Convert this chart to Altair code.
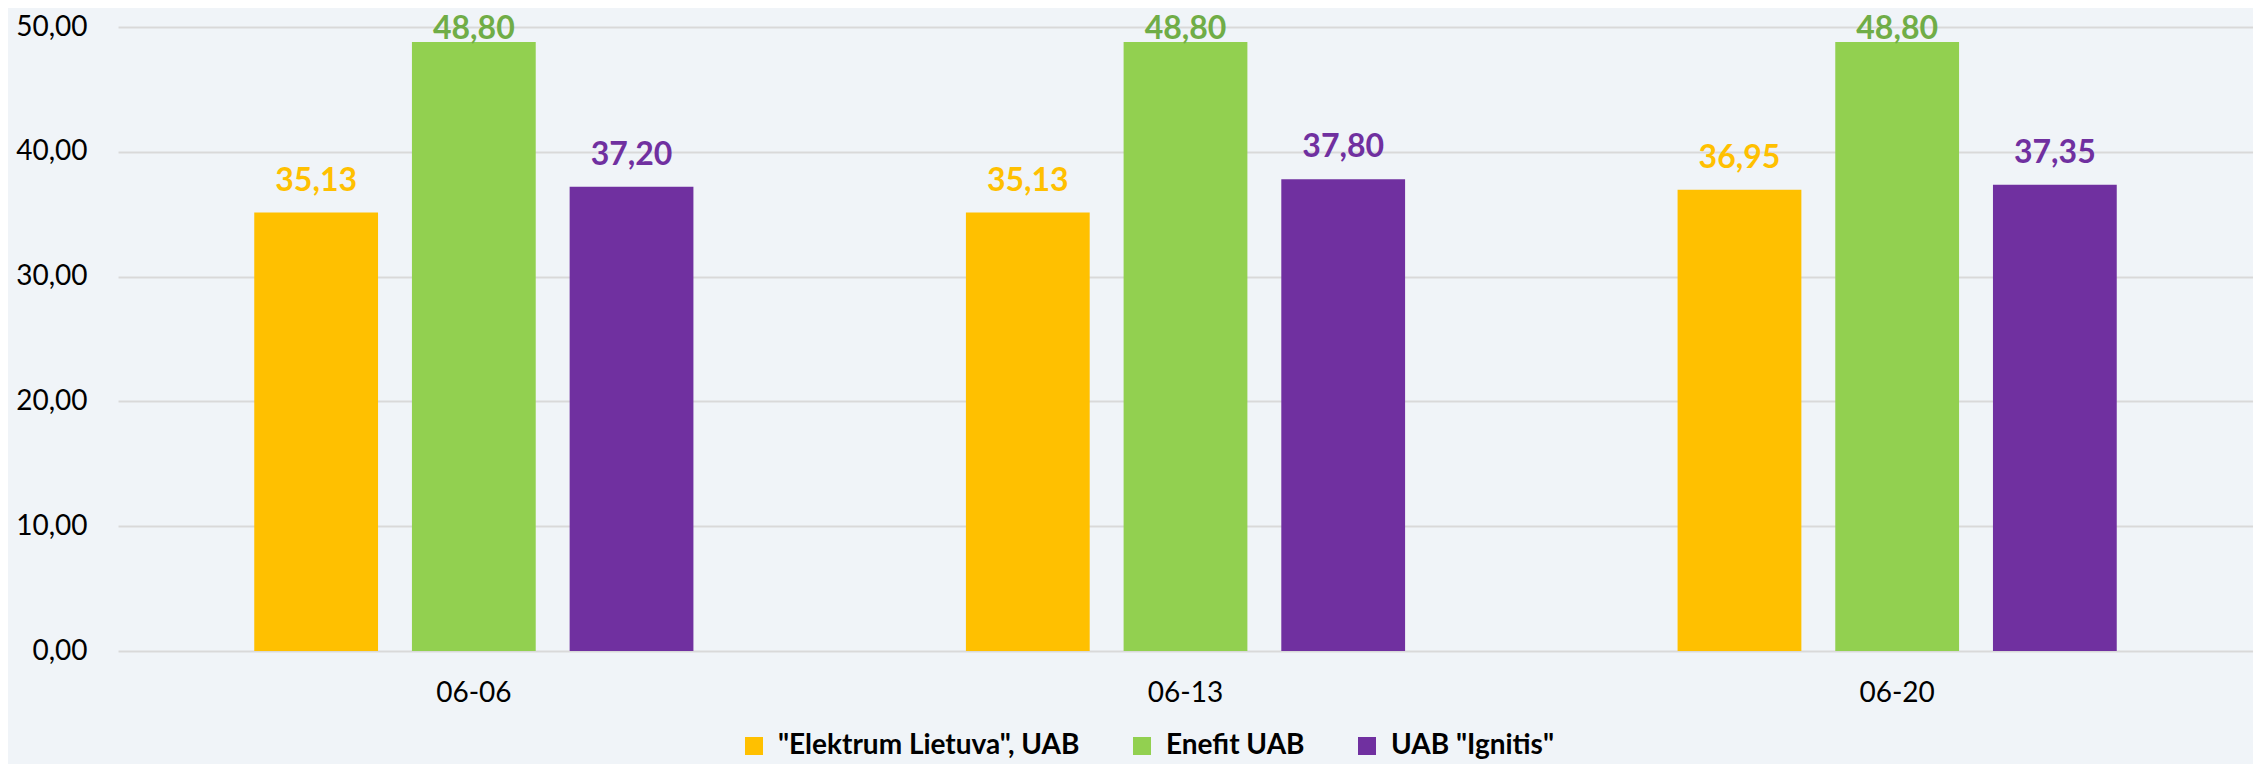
import altair as alt
import pandas as pd

dates = ["06-06", "06-13", "06-20"]
suppliers = ['"Elektrum Lietuva", UAB', "Enefit UAB", 'UAB "Ignitis"']
elektrum = [35.13, 35.13, 36.95]
enefit = [48.80, 48.80, 48.80]
ignitis = [37.20, 37.80, 37.35]
bar_colors = ["#FFC000", "#92D050", "#7030A0"]
label_colors = ["#FFC000", "#70AD47", "#7030A0"]
y_ticks = [0, 10, 20, 30, 40, 50]

rows = []
for series_name, vals in zip(suppliers, [elektrum, enefit, ignitis]):
    for d, v in zip(dates, vals):
        rows.append({"date": d, "supplier": series_name, "value": v})
df = pd.DataFrame(rows)

FONT = "Lato"
BG = "#F0F4F8"

x_enc = alt.X("date:N", sort=dates, title=None,
              scale=alt.Scale(paddingInner=0, paddingOuter=0),
              axis=alt.Axis(domain=False, ticks=False, labelAngle=0,
                            labelFont=FONT, labelFontSize=28, labelColor="#000000",
                            labelPadding=28))
xoff = alt.XOffset("supplier:N", sort=suppliers,
                   scale=alt.Scale(paddingInner=0.215, paddingOuter=0.864))
y_enc = alt.Y("value:Q", title=None,
              scale=alt.Scale(domain=[0, 50], nice=False),
              axis=alt.Axis(values=y_ticks, domain=False, ticks=False,
                            gridColor="#D9D9D9", gridWidth=2,
                            labelFont=FONT, labelFontSize=28, labelColor="#000000",
                            labelPadding=31,
                            labelExpr="replace(format(datum.value, '.2f'), '.', ',')"))

bars = alt.Chart(df).mark_bar().encode(
    x=x_enc,
    xOffset=xoff,
    y=y_enc,
    color=alt.Color("supplier:N", sort=suppliers,
                    scale=alt.Scale(domain=suppliers, range=bar_colors),
                    legend=alt.Legend(title=None, orient="none", direction="horizontal",
                                      legendX=622, legendY=705,
                                      symbolType="square", symbolSize=324,
                                      symbolStrokeWidth=0, symbolOpacity=1,
                                      labelFont=FONT, labelFontSize=28,
                                      labelFontWeight="bold", labelColor="#000000",
                                      labelOffset=10, columnPadding=48,
                                      labelLimit=600)),
)

labels = alt.Chart(df).transform_calculate(
    label="replace(format(datum.value, '.2f'), '.', ',')",
    label_pos="min(datum.value, 47.3)",
).mark_text(font=FONT, fontSize=32, fontWeight="bold", baseline="alphabetic",
            align="center", dy=-22).encode(
    x=alt.X("date:N", sort=dates),
    xOffset=alt.XOffset("supplier:N", sort=suppliers),
    y=alt.Y("label_pos:Q"),
    text="label:N",
    color=alt.Color("supplier:N", sort=suppliers,
                    scale=alt.Scale(domain=suppliers, range=label_colors),
                    legend=None),
)

chart = alt.layer(bars, labels).resolve_scale(color="independent").properties(
    width=2135, height=624,
    autosize=alt.AutoSizeParams(type="none"),
    padding={"left": 110, "top": 19, "right": 0, "bottom": 113},
    background=BG,
).configure_view(stroke=None)

chart.save("out.html", embed_options={"renderer": "svg", "actions": False})
